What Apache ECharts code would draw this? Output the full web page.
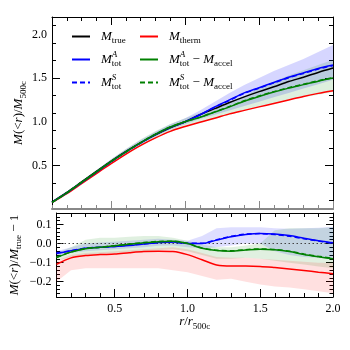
<!DOCTYPE html>
<html>
<head>
<meta charset="utf-8">
<script src="https://cdn.jsdelivr.net/npm/echarts@6/dist/echarts.min.js"></script>
<style>
  html, body { margin: 0; padding: 0; background: #fff; }
  #chart { width: 350px; height: 350px; }
</style>
</head>
<body>
<div id="chart"></div>
<script>
// radius in units of r500c
var xs = [0.1, 0.2, 0.3, 0.4, 0.5, 0.6, 0.7, 0.8, 0.9, 1.0, 1.1, 1.2, 1.3, 1.4, 1.5, 1.6, 1.7, 1.8, 1.9, 2.0];

// top panel: M(<r)/M500c
var mTrue  = [0.08, 0.19, 0.31, 0.43, 0.55, 0.66, 0.76, 0.85, 0.93, 1.00, 1.08, 1.15, 1.22, 1.285, 1.345, 1.40, 1.46, 1.51, 1.565, 1.615];
var mTherm = [0.072, 0.175, 0.29, 0.405, 0.52, 0.63, 0.73, 0.815, 0.89, 0.945, 0.995, 1.04, 1.09, 1.13, 1.17, 1.21, 1.25, 1.29, 1.325, 1.355];
var mTotA  = [0.077, 0.185, 0.303, 0.422, 0.542, 0.655, 0.758, 0.856, 0.937, 1.0, 1.08, 1.17, 1.25, 1.33, 1.39, 1.45, 1.51, 1.56, 1.61, 1.65];
var mTotS  = [0.077, 0.185, 0.303, 0.422, 0.542, 0.655, 0.758, 0.855, 0.935, 0.998, 1.078, 1.165, 1.245, 1.325, 1.385, 1.445, 1.503, 1.553, 1.603, 1.643];
var mAccA  = [0.075, 0.185, 0.305, 0.425, 0.545, 0.655, 0.76, 0.857, 0.94, 1.0, 1.05, 1.11, 1.17, 1.235, 1.29, 1.34, 1.385, 1.425, 1.465, 1.50];
var mAccS  = [0.075, 0.185, 0.305, 0.425, 0.545, 0.656, 0.761, 0.858, 0.94, 1.0, 1.052, 1.113, 1.174, 1.24, 1.295, 1.345, 1.39, 1.43, 1.47, 1.505];
// scatter bands, top panel
var totLo = [0.07, 0.175, 0.295, 0.41, 0.53, 0.64, 0.74, 0.83, 0.91, 0.97, 1.03, 1.08, 1.13, 1.18, 1.23, 1.28, 1.33, 1.38, 1.43, 1.48];
var totHi = [0.085, 0.2, 0.32, 0.445, 0.57, 0.685, 0.79, 0.885, 0.97, 1.04, 1.13, 1.23, 1.33, 1.42, 1.50, 1.58, 1.65, 1.72, 1.80, 1.88];
var accLo = [0.068, 0.17, 0.285, 0.40, 0.515, 0.62, 0.72, 0.81, 0.885, 0.94, 0.99, 1.03, 1.08, 1.125, 1.17, 1.21, 1.25, 1.28, 1.31, 1.34];
var accHi = [0.085, 0.2, 0.32, 0.445, 0.57, 0.69, 0.80, 0.895, 0.975, 1.04, 1.10, 1.17, 1.23, 1.29, 1.39, 1.46, 1.53, 1.59, 1.65, 1.71];

// bottom panel: M(<r)/Mtrue - 1
var rTotA  = [-0.052, -0.038, -0.024, -0.02, -0.016, -0.01, -0.002, 0.006, 0.008, 0.0, 0.0, 0.018, 0.036, 0.048, 0.053, 0.05, 0.042, 0.028, 0.015, 0.004];
var rTotS  = [-0.05, -0.037, -0.024, -0.019, -0.015, -0.009, -0.002, 0.005, 0.008, 0.001, 0.002, 0.02, 0.038, 0.05, 0.052, 0.047, 0.038, 0.025, 0.013, 0.002];
var rAccA  = [-0.074, -0.045, -0.027, -0.02, -0.012, -0.004, 0.004, 0.01, 0.012, 0.0, -0.025, -0.037, -0.04, -0.034, -0.03, -0.033, -0.042, -0.057, -0.069, -0.08];
var rAccS  = [-0.072, -0.044, -0.026, -0.019, -0.011, -0.003, 0.005, 0.011, 0.012, 0.001, -0.023, -0.035, -0.038, -0.032, -0.028, -0.031, -0.04, -0.055, -0.067, -0.078];
var rTherm = [-0.109, -0.075, -0.063, -0.058, -0.055, -0.048, -0.042, -0.04, -0.042, -0.058, -0.085, -0.112, -0.118, -0.118, -0.12, -0.126, -0.133, -0.141, -0.15, -0.158];
var rTotLo = [-0.065, -0.05, -0.04, -0.035, -0.03, -0.025, -0.02, -0.012, -0.01, -0.02, -0.025, -0.02, -0.01, 0.0, 0.0, -0.04, -0.06, -0.07, -0.075, -0.08];
var rTotHi = [-0.04, -0.02, 0.0, 0.005, 0.01, 0.015, 0.02, 0.025, 0.02, 0.015, 0.04, 0.08, 0.085, 0.085, 0.085, 0.08, 0.078, 0.08, 0.083, 0.088];
var rAccLo = [-0.09, -0.07, -0.06, -0.055, -0.05, -0.045, -0.04, -0.035, -0.03, -0.04, -0.06, -0.08, -0.08, -0.075, -0.08, -0.09, -0.1, -0.11, -0.12, -0.13];
var rAccHi = [-0.05, -0.02, 0.02, 0.03, 0.03, 0.035, 0.04, 0.04, 0.03, 0.015, -0.005, -0.02, -0.02, -0.01, 0.0, 0.07, 0.08, 0.08, 0.08, 0.085];
var rThLo  = [-0.2, -0.14, -0.13, -0.13, -0.13, -0.13, -0.13, -0.13, -0.14, -0.15, -0.17, -0.19, -0.185, -0.2, -0.215, -0.225, -0.23, -0.24, -0.25, -0.26];
var rThHi  = [-0.09, -0.06, -0.05, -0.045, -0.04, -0.035, -0.03, -0.025, -0.02, -0.03, -0.05, -0.07, -0.075, -0.075, -0.08, -0.085, -0.09, -0.095, -0.1, -0.1];

// ticks and labels
var xLabels = [0.5, 1.0, 1.5, 2.0];
var xMinor = [0.1, 0.2, 0.3, 0.4, 0.6, 0.7, 0.8, 0.9, 1.1, 1.2, 1.3, 1.4, 1.6, 1.7, 1.8, 1.9];
var yTopLabels = [0.5, 1.0, 1.5, 2.0];
var yTopMajor = [0.5, 1.5];
var yTopMinor = [0.1, 0.3, 0.7, 0.9, 1.1, 1.3, 1.7, 1.9, 2.1];
var yBotLabels = [-0.2, -0.1, 0.0, 0.1];
var yBotMinor = [-0.26, -0.24, -0.22, -0.18, -0.16, -0.14, -0.12, -0.08, -0.06, -0.04, -0.02, 0.02, 0.04, 0.06, 0.08, 0.12, 0.14];

var SERIF = 'Liberation Serif';
var BLUE = '#0000ff', GREEN = '#008000', RED = '#ff0000';

function pairs(arr) {
    return xs.map(function (x, i) { return [x, arr[i]]; });
}

var rich = {
    m: { fontFamily: SERIF, fontStyle: 'italic', fontSize: 13, lineHeight: 18, color: '#000' },
    u: { fontFamily: SERIF, fontSize: 13, lineHeight: 18, color: '#000' },
    s: { fontFamily: SERIF, fontSize: 9, lineHeight: 9, verticalAlign: 'bottom', color: '#000' },
    p: { fontFamily: SERIF, fontStyle: 'italic', fontSize: 9, lineHeight: 9, verticalAlign: 'top', width: 0, color: '#000' },
    g: { width: 6 }
};

var legendText = {
    'M_true': '{g|}{m|M}{s|true}',
    'M_therm': '{g|}{m|M}{s|therm}',
    'MA_tot': '{g|}{m|M}{p|A}{s|tot}',
    'MS_tot': '{g|}{m|M}{p|S}{s|tot}',
    'MA_acc': '{g|}{m|M}{p|A}{s|tot}{u| − }{m|M}{s|accel}',
    'MS_acc': '{g|}{m|M}{p|S}{s|tot}{u| − }{m|M}{s|accel}'
};

function line(name, arr, color, dashed, xi, yi) {
    return {
        name: name, type: 'line', xAxisIndex: xi, yAxisIndex: yi,
        data: pairs(arr), symbol: 'none', smooth: 0.3, z: 5,
        lineStyle: { color: color, width: 1.5, type: dashed ? [5, 3] : 'solid' },
        itemStyle: { color: color }
    };
}

// shaded scatter band drawn as one polygon through the axis coordinates
function band(lo, hi, color, xi, yi) {
    return {
        type: 'custom', xAxisIndex: xi, yAxisIndex: yi, silent: true, z: 1,
        data: [[xs[0], lo[0]]],
        renderItem: function (params, api) {
            var pts = [], i;
            for (i = 0; i < xs.length; i++) pts.push(api.coord([xs[i], hi[i]]));
            for (i = xs.length - 1; i >= 0; i--) pts.push(api.coord([xs[i], lo[i]]));
            return { type: 'polygon', shape: { points: pts }, style: { fill: color } };
        }
    };
}

// extra axes only carry tick marks (major/minor, both sides)
function xAx(grid, pos, ticks, len, color, lineShow, lineW, extra) {
    var a = {
        type: 'value', gridIndex: grid, position: pos, min: 0.1, max: 2.0,
        axisLine: { show: lineShow, onZero: false, lineStyle: { color: color, width: lineW } },
        axisTick: { show: true, inside: true, length: len, customValues: ticks, lineStyle: { color: color } },
        axisLabel: { show: false },
        splitLine: { show: false }
    };
    return Object.assign(a, extra || {});
}

function yAx(grid, pos, min, max, ticks, len, lineShow, extra) {
    var a = {
        type: 'value', gridIndex: grid, position: pos, min: min, max: max,
        axisLine: { show: lineShow, onZero: false, lineStyle: { color: '#000', width: 1 } },
        axisTick: { show: true, inside: true, length: len, customValues: ticks, lineStyle: { color: '#000' } },
        axisLabel: { show: false },
        splitLine: { show: false }
    };
    return Object.assign(a, extra || {});
}

var tickFont = { show: true, fontFamily: SERIF, fontSize: 12, color: '#000' };

var legendBase = {
    orient: 'vertical', top: 25, itemWidth: 18, itemHeight: 10, itemGap: 5,
    itemStyle: { opacity: 0 },
    formatter: function (n) { return legendText[n]; },
    textStyle: { rich: rich }
};

var chart = echarts.init(document.getElementById('chart'));
var option = {
    animation: false,
    backgroundColor: '#fff',
    grid: [
        { left: 52, right: 17, top: 17, height: 192 },
        { left: 52, right: 17, top: 213, height: 84 }
    ],
    legend: [
        Object.assign({ data: ['M_true', 'MA_tot', 'MS_tot'], left: 66 }, legendBase),
        Object.assign({ data: ['M_therm', 'MA_acc', 'MS_acc'], left: 134 }, legendBase)
    ],
    xAxis: [
        xAx(0, 'bottom', xLabels, 8, '#888', true, 2),
        xAx(0, 'bottom', xMinor, 4, '#888', false, 1),
        xAx(0, 'top', xLabels, 8, '#000', true, 1),
        xAx(0, 'top', xMinor, 4, '#000', false, 1),
        xAx(1, 'bottom', xLabels, 8, '#000', true, 1, {
            axisLabel: Object.assign({ customValues: xLabels, margin: 6,
                formatter: function (v) { return v.toFixed(1); } }, tickFont),
            name: '{m|r}{u|/}{m|r}{s|500c}', nameLocation: 'middle', nameGap: 16,
            nameMoveOverlap: false,
            nameTextStyle: { rich: rich }
        }),
        xAx(1, 'bottom', xMinor, 4, '#000', false, 1),
        xAx(1, 'top', xLabels, 8, '#000', true, 1),
        xAx(1, 'top', xMinor, 4, '#000', false, 1)
    ],
    yAxis: [
        yAx(0, 'left', 0, 2.2, yTopMajor, 8, true, {
            axisLabel: Object.assign({ customValues: yTopLabels, margin: 5,
                formatter: function (v) { return v.toFixed(1); } }, tickFont),
            name: '{m|M}{u|(<}{m|r}{u|)/}{m|M}{s|500c}', nameLocation: 'middle', nameGap: 24,
            nameMoveOverlap: false,
            nameTextStyle: { rich: rich }
        }),
        yAx(0, 'left', 0, 2.2, yTopMinor, 4, false),
        yAx(0, 'right', 0, 2.2, yTopMajor, 8, true),
        yAx(0, 'right', 0, 2.2, yTopMinor, 4, false),
        yAx(1, 'left', -0.28, 0.16, yBotLabels, 7, true, {
            axisLabel: Object.assign({ customValues: yBotLabels, margin: 5,
                formatter: function (v) { return (v < 0 ? '\u2212' : '') + Math.abs(v).toFixed(1); } }, tickFont),
            name: '{m|M}{u|(<}{m|r}{u|)/}{m|M}{s|true}{u| − 1}', nameLocation: 'middle', nameGap: 33,
            nameMoveOverlap: false,
            nameTextStyle: { rich: rich }
        }),
        yAx(1, 'left', -0.28, 0.16, yBotMinor, 3.5, false),
        yAx(1, 'right', -0.28, 0.16, yBotLabels, 7, true),
        yAx(1, 'right', -0.28, 0.16, yBotMinor, 3.5, false)
    ],
    series: [
        band(totLo, totHi, 'rgba(0,0,255,0.16)', 0, 0),
        band(accLo, accHi, 'rgba(0,128,0,0.13)', 0, 0),
        line('M_true', mTrue, '#000', false, 0, 0),
        line('M_therm', mTherm, RED, false, 0, 0),
        line('MA_tot', mTotA, BLUE, false, 0, 0),
        line('MS_tot', mTotS, BLUE, true, 0, 0),
        line('MA_acc', mAccA, GREEN, false, 0, 0),
        line('MS_acc', mAccS, GREEN, true, 0, 0),

        band(rTotLo, rTotHi, 'rgba(0,0,255,0.13)', 4, 4),
        band(rAccLo, rAccHi, 'rgba(0,128,0,0.12)', 4, 4),
        band(rThLo, rThHi, 'rgba(255,0,0,0.12)', 4, 4),
        Object.assign(line('M_therm', rTherm, RED, false, 4, 4), {
            markLine: {
                silent: true, symbol: 'none', label: { show: false },
                lineStyle: { color: '#444', type: [1.5, 2.5], width: 1.2 },
                data: [{ yAxis: 0 }]
            }
        }),
        line('MA_tot', rTotA, BLUE, false, 4, 4),
        line('MS_tot', rTotS, BLUE, true, 4, 4),
        line('MA_acc', rAccA, GREEN, false, 4, 4),
        line('MS_acc', rAccS, GREEN, true, 4, 4)
    ]
};
chart.setOption(option);
</script>
</body>
</html>
